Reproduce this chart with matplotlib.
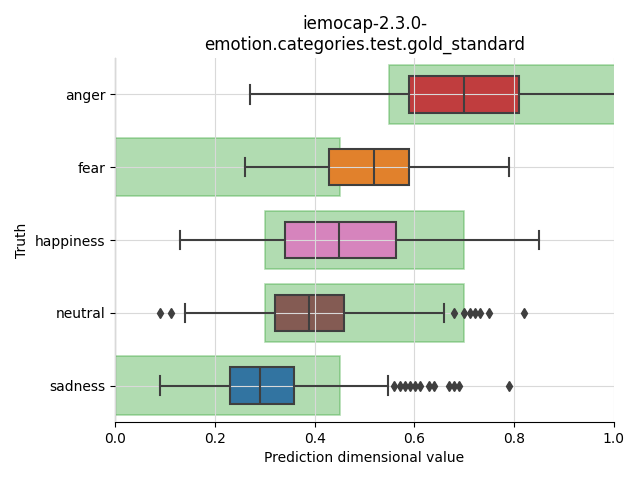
import matplotlib
matplotlib.use("Agg")
import matplotlib.pyplot as plt
from matplotlib.patches import Rectangle
import matplotlib.colors as mcolors
import colorsys

categories = ["anger", "fear", "happiness", "neutral", "sadness"]
whislo = [0.27, 0.26, 0.13, 0.14, 0.09]
q1 = [0.589, 0.428, 0.340, 0.320, 0.230]
med = [0.700, 0.519, 0.448, 0.389, 0.291]
q3 = [0.810, 0.590, 0.563, 0.458, 0.359]
whishi = [1.03, 0.789, 0.850, 0.659, 0.548]
fliers = [
    [],
    [],
    [],
    [0.090, 0.111, 0.680, 0.700, 0.712, 0.721, 0.731, 0.750, 0.820],
    [0.559, 0.571, 0.581, 0.591, 0.601, 0.611, 0.630, 0.639, 0.670, 0.680, 0.689, 0.790],
]
range_lo = [0.55, 0.0, 0.30, 0.30, 0.0]
range_hi = [1.05, 0.45, 0.70, 0.70, 0.45]
base_colors = ["#d62728", "#ff7f0e", "#e377c2", "#8c564b", "#1f77b4"]


def desat(c, s=0.75):
    r, g, b = mcolors.to_rgb(c)
    h, l, sat = colorsys.rgb_to_hls(r, g, b)
    return colorsys.hls_to_rgb(h, l, sat * s)


fig, ax = plt.subplots(figsize=(6.4, 4.8), dpi=100)

for i in range(len(categories)):
    ax.add_patch(Rectangle((range_lo[i], i - 0.4), range_hi[i] - range_lo[i], 0.8,
                           facecolor="#2ca02c", alpha=0.37, edgecolor="#2ca02c",
                           linewidth=1.2, zorder=1))

stats = []
for i, c in enumerate(categories):
    stats.append(dict(label=c, whislo=whislo[i], q1=q1[i], med=med[i], q3=q3[i],
                      whishi=whishi[i], fliers=fliers[i]))

lc = "#3f3f3f"
bp = ax.bxp(stats, positions=range(len(categories)), vert=False, widths=0.5,
            patch_artist=True, showfliers=True,
            boxprops=dict(edgecolor=lc, linewidth=1.5),
            medianprops=dict(color=lc, linewidth=1.5),
            whiskerprops=dict(color=lc, linewidth=1.5),
            capprops=dict(color=lc, linewidth=1.5),
            flierprops=dict(marker="d", markerfacecolor=lc, markeredgecolor=lc,
                            markersize=5),
            capwidths=0.25)
for patch, col in zip(bp["boxes"], base_colors):
    patch.set_facecolor(desat(col))
    patch.set_zorder(2)
for key in ["whiskers", "caps", "medians", "fliers"]:
    for ln in bp[key]:
        ln.set_zorder(3)

ax.set_xlim(0, 1.0)
ax.set_ylim(4.5, -0.5)
ax.set_yticks(range(len(categories)))
ax.set_yticklabels(categories)
ax.set_xticks([0.0, 0.2, 0.4, 0.6, 0.8, 1.0])
ax.grid(True, color="#d9d9d9", linewidth=0.8)
ax.set_axisbelow(False)
for sp in ["top", "right"]:
    ax.spines[sp].set_visible(False)
ax.set_xlabel("Prediction dimensional value")
ax.set_ylabel("Truth")
ax.set_title("iemocap-2.3.0-\nemotion.categories.test.gold_standard")
fig.subplots_adjust(left=0.18, right=0.959, top=0.879, bottom=0.121)
fig.savefig("out.png", dpi=100)
